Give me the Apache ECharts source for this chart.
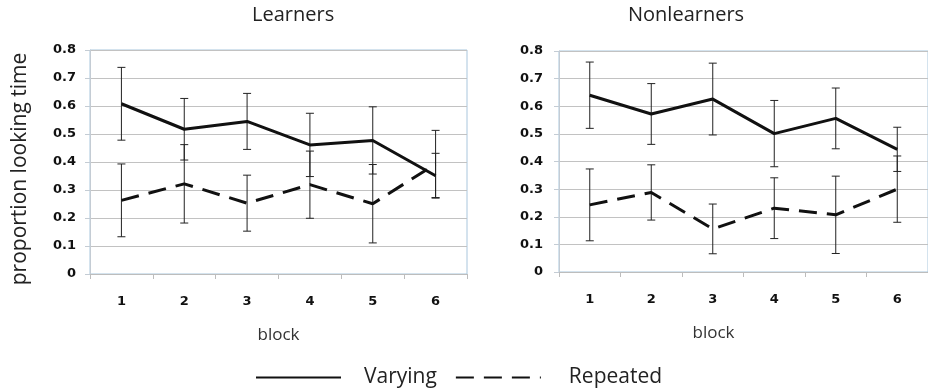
<!DOCTYPE html>
<html>
<head>
<meta charset="utf-8">
<script src="https://cdn.jsdelivr.net/npm/echarts@6/dist/echarts.min.js"></script>
<style>html,body{margin:0;padding:0;background:#fff}#c{width:928px;height:389px}</style>
</head>
<body>
<div id="c"></div>
<script>
const blocks = ['1', '2', '3', '4', '5', '6'];
const yTicks = [0, 0.1, 0.2, 0.3, 0.4, 0.5, 0.6, 0.7, 0.8];
const learnVarying = [0.608, 0.517, 0.545, 0.461, 0.477, 0.351];
const learnVaryingErr = [0.13, 0.11, 0.10, 0.113, 0.12, 0.08];
const learnRepeated = [0.263, 0.322, 0.253, 0.319, 0.251, 0.393];
const learnRepeatedErr = [0.13, 0.14, 0.10, 0.12, 0.14, 0.12];
const nonVarying = [0.640, 0.572, 0.626, 0.501, 0.556, 0.444];
const nonVaryingErr = [0.12, 0.11, 0.13, 0.12, 0.11, 0.08];
const nonRepeated = [0.243, 0.288, 0.156, 0.231, 0.207, 0.300];
const nonRepeatedErr = [0.13, 0.10, 0.09, 0.11, 0.14, 0.12];

const FONT = '"Open Sans", "Liberation Sans", sans-serif';
const TICKFONT = '"DejaVu Sans", sans-serif';
const chart = echarts.init(document.getElementById('c'));

function errData(vals, errs) {
  return vals.map((v, i) => [i, v - errs[i], v + errs[i]]);
}
function errSeries(name, idx, vals, errs) {
  return {
    name: name, type: 'custom', xAxisIndex: idx, yAxisIndex: idx, z: 3,
    data: errData(vals, errs),
    renderItem: function (params, api) {
      const lo = api.coord([api.value(0), api.value(1)]);
      const hi = api.coord([api.value(0), api.value(2)]);
      const w = 4;
      const st = { stroke: '#222', lineWidth: 1 };
      return {
        type: 'group', children: [
          { type: 'line', shape: { x1: lo[0], y1: lo[1], x2: hi[0], y2: hi[1] }, style: st },
          { type: 'line', shape: { x1: lo[0] - w, y1: lo[1], x2: lo[0] + w, y2: lo[1] }, style: st },
          { type: 'line', shape: { x1: hi[0] - w, y1: hi[1], x2: hi[0] + w, y2: hi[1] }, style: st }
        ]
      };
    }
  };
}
function lineSeries(name, idx, vals, dashed) {
  return {
    name: name, type: 'line', xAxisIndex: idx, yAxisIndex: idx, z: 4,
    data: vals, symbol: 'none', silent: true,
    lineStyle: { color: '#111', width: 3, type: dashed ? [18, 10] : 'solid' },
    itemStyle: { color: '#111' }
  };
}
function xAxis(idx, padRight) {
  return {
    type: 'category', gridIndex: idx, data: blocks, boundaryGap: true,
    axisLine: { lineStyle: { color: '#bdbdbd', width: 1 } },
    axisTick: { show: true, length: 5, lineStyle: { color: '#bdbdbd' } },
    axisLabel: { color: '#111', fontFamily: TICKFONT, fontWeight: 'bold', fontSize: 13, margin: 21 },
    name: 'block', nameLocation: 'middle', nameGap: 53,
    nameTextStyle: { color: '#333', fontFamily: FONT, fontSize: 17, padding: [0, padRight, 0, 0] }
  };
}
function yAxis(idx, margin) {
  return {
    type: 'value', gridIndex: idx, min: 0, max: 0.8, interval: 0.1,
    axisLine: { show: true, lineStyle: { color: '#c4ccd4', width: 1 } },
    axisTick: { show: true, length: 5, lineStyle: { color: '#c4ccd4' } },
    splitLine: { lineStyle: { color: '#c2c2c2', width: 1 } },
    axisLabel: {
      color: '#111', fontFamily: TICKFONT, fontWeight: 'bold', fontSize: 13, margin: margin,
      formatter: v => yTicks.indexOf(Math.round(v * 10) / 10) >= 0 ? String(Math.round(v * 10) / 10) : ''
    }
  };
}

chart.setOption({
  animation: false,
  backgroundColor: '#fff',
  grid: [
    { left: 90, top: 50, width: 377, height: 224, show: true, borderColor: '#a9c6dd', borderWidth: 1, backgroundColor: 'transparent' },
    { left: 559, top: 51, width: 376, height: 221, show: true, borderColor: '#a9c6dd', borderWidth: 1, backgroundColor: 'transparent' }
  ],
  xAxis: [xAxis(0, 0), xAxis(1, 60)],
  yAxis: [yAxis(0, 14), yAxis(1, 16)],
  legend: {
    data: [
      { name: 'Varying', itemStyle: { opacity: 0 } },
      { name: 'Repeated', itemStyle: { opacity: 0 }, textStyle: { padding: [0, 0, 0, 23] } }
    ],
    left: 250, top: 362,
    itemWidth: 85, itemHeight: 24, itemGap: 18,
    selectedMode: false,
    textStyle: { color: '#222', fontFamily: FONT, fontSize: 21, padding: [0, 0, 0, 18] }
  },
  graphic: [
    { type: 'text', left: 252, top: 5, style: { text: 'Learners', fill: '#222', font: '20px ' + FONT } },
    { type: 'text', left: 628, top: 5, style: { text: 'Nonlearners', fill: '#222', font: '20px ' + FONT } },
    { type: 'text', x: 20, y: 169, rotation: Math.PI / 2,
      style: { text: 'proportion looking time', fill: '#222', font: '21px ' + FONT, align: 'center', verticalAlign: 'middle' } }
  ],
  series: [
    errSeries('errLV', 0, learnVarying, learnVaryingErr),
    errSeries('errLR', 0, learnRepeated, learnRepeatedErr),
    errSeries('errNV', 1, nonVarying, nonVaryingErr),
    errSeries('errNR', 1, nonRepeated, nonRepeatedErr),
    lineSeries('Varying', 0, learnVarying, false),
    lineSeries('Repeated', 0, learnRepeated, true),
    lineSeries('Varying', 1, nonVarying, false),
    lineSeries('Repeated', 1, nonRepeated, true)
  ]
});
</script>
</body>
</html>
